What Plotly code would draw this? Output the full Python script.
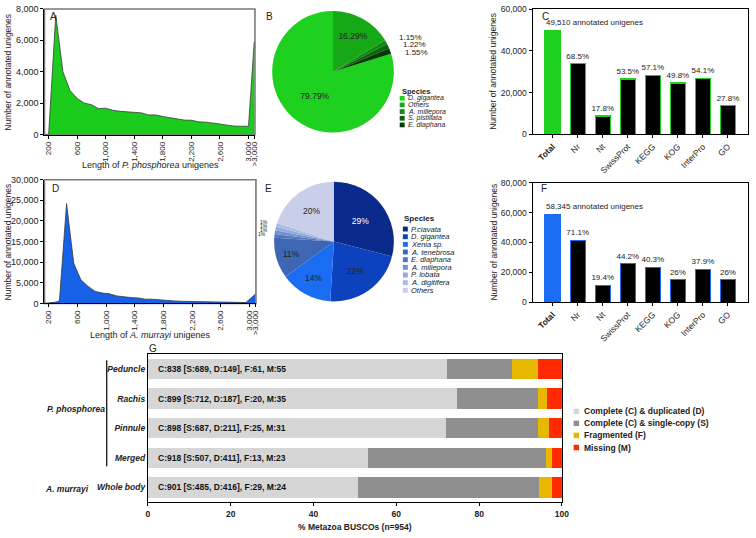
import plotly.graph_objects as go

W, H = 756, 538
FONT = "Arial, Liberation Sans, sans-serif"

# ---------------- A: length distribution, P. phosphorea
len_a = [200, 300, 400, 500, 600, 700, 800, 900, 1000, 1100, 1200, 1300, 1400, 1500,
         1600, 1700, 1800, 1900, 2000, 2100, 2200, 2300, 2400, 2500, 2600, 2700,
         2800, 2900, 3000]
count_a = [0, 7600, 4000, 2800, 2300, 2000, 1900, 1650, 1680, 1540, 1480, 1440, 1430, 1380,
           1250, 1250, 1150, 1060, 1000, 920, 910, 810, 790, 710, 670, 600,
           540, 530, 530]
over_a = 5900  # >3,000

# ---------------- D: length distribution, A. murrayi
len_d = [200, 300, 350, 450, 550, 650, 750, 850, 950, 1050, 1150, 1250, 1350, 1450,
         1550, 1650, 1750, 1850, 1950, 2050, 2150, 2250, 2350, 2450, 2550, 2650,
         2750, 2850, 2950]
count_d = [100, 300, 600, 24200, 9700, 5700, 4100, 2900, 2500, 2300, 1800, 1550, 1400, 1300,
           1000, 1000, 800, 650, 580, 500, 460, 420, 400, 350, 310, 280,
           250, 220, 200]
over_d = 2200  # >3,000

length_ticks = [200, 600, 1000, 1400, 1800, 2200, 2600, 3000]
OVER_POS = 3080  # axis position of the ">3,000" bin

# ---------------- B: species hits, P. phosphorea
species_b = ["D. gigantea", "Others", "A. millepora", "S. pistillata", "E. diaphana"]
share_b = [79.79, 16.29, 1.15, 1.22, 1.55]
colors_b = ["#1fd11f", "#17a817", "#0f8c0f", "#0a650a", "#053a05"]

# ---------------- E: species hits, A. murrayi
species_e = ["P.clavata", "D. gigantea", "Xenia sp.", "A. tenebrosa", "E. diaphana",
             "A. millepora", "P. lobata", "A. digitifera", "Others"]
share_e = [29, 22, 14, 11, 1, 1, 1, 1, 20]
colors_e = ["#0c2a8c", "#0c42bd", "#1a6cf2", "#3e66b3", "#5175bf", "#7390cf",
            "#94a9dc", "#aebce3", "#c9cfe9"]

# ---------------- C / F: annotation databases
db = ["Total", "Nr", "Nt", "SwissProt", "KEGG", "KOG", "InterPro", "GO"]
count_c = [49510, 33914, 8813, 26488, 28270, 24656, 26785, 13764]
pct_c = ["", "68.5%", "17.8%", "53.5%", "57.1%", "49.8%", "54.1%", "27.8%"]
count_f = [58345, 41483, 11319, 25788, 23513, 15170, 22113, 15170]
pct_f = ["", "71.1%", "19.4%", "44.2%", "40.3%", "26%", "37.9%", "26%"]

# ---------------- G: BUSCO
tissue_g = ["Peduncle", "Rachis", "Pinnule", "Merged", "Whole body"]
single_g = [689, 712, 687, 507, 485]
dup_g = [149, 187, 211, 411, 416]
frag_g = [61, 20, 25, 13, 29]
miss_g = [55, 35, 31, 23, 24]
N_BUSCO = 954
busco_names = ["Complete (C) & duplicated (D)", "Complete (C) & single-copy (S)",
               "Fragmented (F)", "Missing (M)"]
busco_colors = ["#d6d6d6", "#8f8f8f", "#e8b800", "#ff2a00"]


def px(x):
    return x / W


def py(y):
    return 1 - y / H


fig = go.Figure()

# length distributions
fig.add_trace(go.Scatter(x=len_a + [OVER_POS], y=count_a + [over_a], mode="lines",
                         fill="tozeroy", fillcolor="#1ccc1c",
                         line=dict(color="#3a3a3a", width=0.8),
                         xaxis="x", yaxis="y", showlegend=False, hoverinfo="skip"))
fig.add_trace(go.Scatter(x=len_d + [OVER_POS], y=count_d + [over_d], mode="lines",
                         fill="tozeroy", fillcolor="#1562e6",
                         line=dict(color="#3a3a3a", width=0.8),
                         xaxis="x3", yaxis="y3", showlegend=False, hoverinfo="skip"))

# pies
fig.add_trace(go.Pie(values=share_b, labels=species_b, sort=False, direction="clockwise",
                     rotation=360 - share_b[0] * 3.6,
                     marker=dict(colors=colors_b, line=dict(width=0)),
                     text=[f"{v:.2f}%" if v > 5 else "" for v in share_b],
                     textinfo="text", textposition="inside",
                     insidetextorientation="horizontal",
                     insidetextfont=dict(size=8.5, color="#222"),
                     domain=dict(x=[px(273), px(397)], y=[py(130), py(6)]),
                     showlegend=False, hoverinfo="skip"))
fig.add_trace(go.Pie(values=share_e, labels=species_e, sort=False, direction="clockwise",
                     rotation=0,
                     marker=dict(colors=colors_e, line=dict(width=0)),
                     text=[f"{v}%" if v > 5 else "" for v in share_e],
                     textinfo="text", textposition="inside",
                     insidetextorientation="horizontal",
                     insidetextfont=dict(size=8.5, color=["white"] + ["#222"] * 8),
                     domain=dict(x=[px(275), px(397)], y=[py(302), py(180)]),
                     showlegend=False, hoverinfo="skip"))

# annotation bars
fig.add_trace(go.Bar(x=db, y=count_c, width=0.6, text=pct_c, textposition="outside",
                     constraintext="none",
                     textfont=dict(size=8, color="#222"), cliponaxis=False,
                     marker=dict(color=["#1fd01f"] + ["black"] * 7,
                                 line=dict(color="#1fd01f", width=1.3)),
                     xaxis="x2", yaxis="y2", showlegend=False, hoverinfo="skip"))
fig.add_trace(go.Bar(x=db, y=count_f, width=0.6, text=pct_f, textposition="outside",
                     constraintext="none",
                     textfont=dict(size=8, color="#222"), cliponaxis=False,
                     marker=dict(color=["#1a6cf2"] + ["black"] * 7,
                                 line=dict(color="#1a6cf2", width=1.3)),
                     xaxis="x4", yaxis="y4", showlegend=False, hoverinfo="skip"))

# BUSCO stacked bars
for vals, name, col in zip([single_g, dup_g, frag_g, miss_g], busco_names, busco_colors):
    fig.add_trace(go.Bar(y=tissue_g, x=[v / N_BUSCO * 100 for v in vals], orientation="h",
                         width=0.68, marker=dict(color=col, line=dict(width=0)), name=name,
                         xaxis="x5", yaxis="y5", showlegend=False, hoverinfo="skip"))

ax = dict(showline=True, linecolor="black", linewidth=1.2, ticks="outside", ticklen=3,
          tickcolor="black", showgrid=False, zeroline=False,
          tickfont=dict(size=9, color="#222"))

len_ticktext = [f"{v:,}" for v in length_ticks] + [">3,000"]

fig.update_layout(
    width=W, height=H, margin=dict(l=0, r=0, t=0, b=0),
    paper_bgcolor="white", plot_bgcolor="white",
    font=dict(family=FONT, color="#222"),
    barmode="stack", bargap=0.3,
    xaxis=dict(ax, anchor="y", domain=[px(43), px(256)], range=[142, 3090],
               tickvals=length_ticks + [OVER_POS], ticktext=len_ticktext,
               tickangle=-90, tickfont=dict(size=8)),
    yaxis=dict(ax, anchor="x", domain=[py(132), py(4)], range=[0, 8000], dtick=2000,
               tickformat=",d"),
    xaxis3=dict(ax, anchor="y3", domain=[px(43), px(257)], range=[142, 3090],
                tickvals=length_ticks + [OVER_POS], ticktext=len_ticktext,
                tickangle=-90, tickfont=dict(size=8)),
    yaxis3=dict(ax, anchor="x3", domain=[py(304), py(178)], range=[0, 30000], dtick=5000,
                tickformat=",d"),
    xaxis2=dict(ax, anchor="y2", domain=[px(537), px(755)], range=[-0.8, 7.8], mirror=True,
                tickangle=-45, tickvals=db, ticktext=["<b>Total</b>"] + db[1:],
                tickfont=dict(size=8.5)),
    yaxis2=dict(ax, anchor="x2", domain=[py(131.7), py(4.3)], range=[0, 60000], dtick=20000,
                tickformat=",d", mirror=True, tickfont=dict(size=8.5)),
    xaxis4=dict(ax, anchor="y4", domain=[px(537), px(755)], range=[-0.8, 7.8], mirror=True,
                tickangle=-45, tickvals=db, ticktext=["<b>Total</b>"] + db[1:],
                tickfont=dict(size=8.5)),
    yaxis4=dict(ax, anchor="x4", domain=[py(303), py(181)], range=[0, 80000], dtick=20000,
                tickformat=",d", mirror=True, tickfont=dict(size=8.5)),
    xaxis5=dict(ax, anchor="y5", domain=[px(147.7), px(566.7)], range=[0, 100], mirror=True,
                tickvals=[0, 20, 40, 60, 80, 100],
                ticktext=[f"<b>{v}</b>" for v in [0, 20, 40, 60, 80, 100]],
                tickfont=dict(size=8.5)),
    yaxis5=dict(ax, anchor="x5", domain=[py(506.7), py(355.7)], range=[4.5, -0.5],
                mirror=True, ticks="", tickvals=tissue_g,
                ticktext=[f"<b><i>{t}</i></b>" for t in tissue_g],
                tickfont=dict(size=8.5)),
)

ann = []
shapes = []


def note(text, x, y, size=8.5, xanchor="center", yanchor="middle", angle=0, color="#222"):
    ann.append(dict(text=text, x=px(x), y=py(y), xref="paper", yref="paper",
                    xanchor=xanchor, yanchor=yanchor, textangle=angle, showarrow=False,
                    font=dict(size=size, color=color, family=FONT)))


# panel letters
for letter, x, y in [("A", 47, 12), ("B", 265, 12), ("C", 544, 12), ("D", 49, 187),
                     ("E", 264, 187), ("F", 543, 187), ("G", 147, 350)]:
    note(letter, x, y, size=10, xanchor="left")

# axis titles
note("Number of annotated unigenes", 6, 68, angle=-90)
note("Number of annotated unigenes", 6, 241, angle=-90)
note("Number of annotated unigenes", 497, 68, angle=-90)
note("Number of annotated unigenes", 497, 242, angle=-90)
note("Length of <i>P. phosphorea</i> unigenes", 150, 163, size=9)
note("Length of <i>A. murrayi</i> unigenes", 150, 336, size=9)
note("<b>% Metazoa BUSCOs (n=954)</b>", 357, 532)

# gray frames for length panels
shapes.append(dict(type="rect", xref="paper", yref="paper", x0=px(43), x1=px(256),
                   y0=py(132), y1=py(4), line=dict(color="#7a7a7a", width=1.6), layer="below"))
shapes.append(dict(type="rect", xref="paper", yref="paper", x0=px(43), x1=px(257),
                   y0=py(304), y1=py(178), line=dict(color="#7a7a7a", width=1.6), layer="below"))

# small-slice labels
for v, (x, y) in zip(share_b[2:], [(400, 33), (404, 40.5), (406, 48)]):
    note(f"{v:.2f}%", x, y, size=8, xanchor="left")
for i, v in enumerate(share_e[4:8]):
    note(f"{v}%", 271 - (1.5 if i == 3 else 0), 221.5 + 4 * i, size=5, xanchor="right")

# pie legends
note("<b>Species</b>", 402.5, 88, size=7.5, xanchor="left")
for i, (s, c) in enumerate(zip(species_b, colors_b)):
    y = 95 + 6.8 * i
    shapes.append(dict(type="rect", xref="paper", yref="paper", x0=px(402.5), x1=px(407.5),
                       y0=py(y + 2.4), y1=py(y - 2.4), fillcolor=c, line=dict(width=0)))
    note(f"<i>{s}</i>", 409, y, size=7, xanchor="left")

note("<b>Species</b>", 405, 217.5, size=8, xanchor="left")
for i, (s, c) in enumerate(zip(species_e, colors_e)):
    y = 228.3 + 7.8 * i
    shapes.append(dict(type="rect", xref="paper", yref="paper", x0=px(405.7), x1=px(410.7),
                       y0=py(y + 2.5), y1=py(y - 2.5), fillcolor=c, line=dict(width=0)))
    note(f"<i>{s}</i>", 412.3, y, size=7.5, xanchor="left")

# totals above first bars
ann.append(dict(text=f"{count_c[0]:,} annotated unigenes", x=-0.36, y=count_c[0],
                xref="x2", yref="y2", xanchor="left", yanchor="bottom", yshift=2,
                showarrow=False, font=dict(size=8, color="#222", family=FONT)))
ann.append(dict(text=f"{count_f[0]:,} annotated unigenes", x=-0.36, y=count_f[0],
                xref="x4", yref="y4", xanchor="left", yanchor="bottom", yshift=2,
                showarrow=False, font=dict(size=8, color="#222", family=FONT)))

# BUSCO summaries inside bars
for t, s, d, f, m in zip(tissue_g, single_g, dup_g, frag_g, miss_g):
    ann.append(dict(text=f"<b>C:{s + d} [S:{s}, D:{d}], F:{f}, M:{m}</b>", x=2, y=t,
                    xref="x5", yref="y5", xanchor="left", showarrow=False,
                    font=dict(size=8.5, color="#111", family=FONT)))

# species groups for G
note("<b><i>P. phosphorea</i></b>", 75, 412)
note("<b><i>A. murrayi</i></b>", 66, 493)
shapes.append(dict(type="line", xref="paper", yref="paper", x0=px(106), x1=px(106),
                   y0=py(362), y1=py(470), line=dict(color="black", width=1.2)))

# BUSCO legend
for i, (n, c) in enumerate(zip(busco_names, busco_colors)):
    y = 414 + 12.3 * i
    shapes.append(dict(type="rect", xref="paper", yref="paper", x0=px(578.5), x1=px(584),
                       y0=py(y + 2.8), y1=py(y - 2.8), fillcolor=c, line=dict(width=0)))
    note(f"<b>{n}</b>", 587.3, y, size=8.5, xanchor="left")

fig.update_layout(annotations=ann, shapes=shapes)

# the page body has a default 8px margin; drop it so the figure sits at (0, 0)
fig.write_html("out.html", config={"displayModeBar": False},
               post_script="document.body.style.margin = '0px';")
